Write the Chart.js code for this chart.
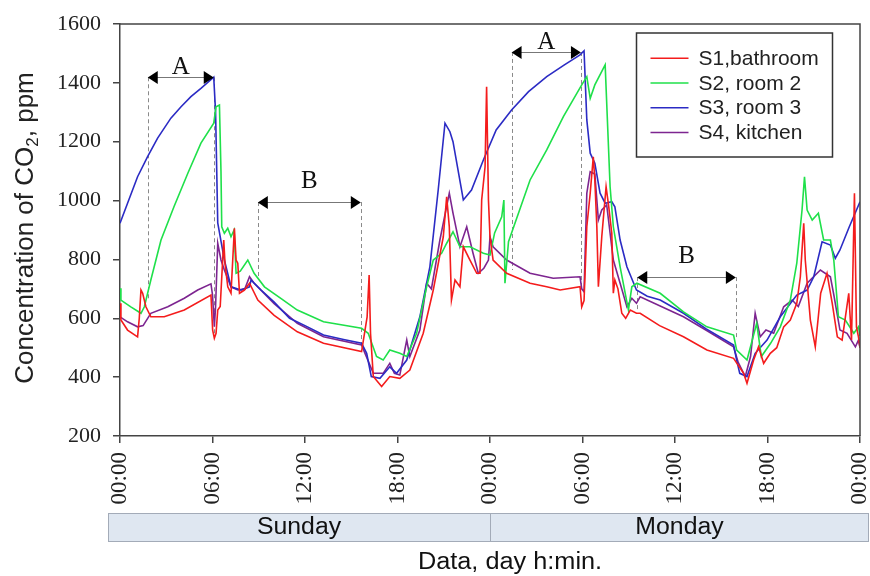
<!DOCTYPE html>
<html lang="en">
<head>
<meta charset="UTF-8">
<title>Concentration of CO2</title>
<script src="https://cdn.jsdelivr.net/npm/chart.js"></script>
<style>
  body { margin: 0; background: #fff; }
</style>
</head>
<body>
<canvas id="chart" width="870" height="576"></canvas>
<script>
// hours counted from Sunday 00:00, values in ppm
const s1Hours = [0, 0.06, 0.49, 1.14, 1.25, 1.36, 1.47, 1.68, 2.0, 2.87, 4.17, 5.9, 6.01, 6.12, 6.23, 6.34, 6.5, 6.66, 6.73, 6.81, 6.99, 7.2, 7.42, 7.53, 7.64, 7.75, 8.07, 8.4, 8.94, 10, 11.5, 13.2, 15.67, 16.03, 16.16, 16.25, 16.43, 16.97, 17.5, 18.15, 18.8, 19.67, 20.32, 20.97, 21.19, 21.36, 21.5, 21.73, 22.05, 22.27, 22.7, 23.14, 23.35, 23.46, 23.68, 23.78, 23.9, 24.0, 24.2, 25.08, 26.6, 27.68, 28.55, 29.84, 29.95, 30.1, 30.28, 30.5, 30.7, 30.8, 30.93, 31.03, 31.25, 31.53, 31.7, 31.9, 32.0, 32.1, 32.3, 32.55, 32.8, 33.1, 33.5, 33.74, 35, 36.55, 38.07, 39.8, 40.45, 40.67, 41.1, 41.42, 41.75, 42.18, 42.6, 43.05, 43.48, 43.9, 44.13, 44.35, 44.45, 44.78, 45.1, 45.45, 45.86, 46.2, 46.53, 46.84, 47.27, 47.45, 47.64, 47.77, 47.9, 48];
const s1Ppm = [651, 594, 560, 537, 600, 696, 685, 639, 605, 605, 628, 679, 560, 532, 549, 628, 640, 798, 866, 787, 707, 685, 906, 798, 787, 685, 696, 719, 662, 610, 554, 515, 487, 605, 747, 549, 402, 368, 402, 396, 424, 549, 696, 877, 1013, 911, 662, 730, 707, 843, 798, 753, 753, 1002, 1115, 1387, 1002, 877, 798, 753, 719, 707, 696, 707, 639, 660, 911, 1025, 1149, 1070, 911, 707, 877, 1047, 980, 889, 685, 730, 700, 617, 600, 628, 617, 617, 575, 537, 492, 464, 413, 379, 458, 503, 447, 481, 500, 571, 594, 651, 741, 923, 798, 594, 503, 685, 753, 651, 537, 526, 685, 526, 1025, 571, 537, 500];

const s2Hours = [0, 0.06, 0.7, 1.36, 1.58, 2.0, 2.66, 3.5, 4.4, 5.25, 6.08, 6.23, 6.45, 6.55, 6.6, 6.77, 6.99, 7.2, 7.4, 7.53, 7.8, 8.29, 8.7, 9.37, 10.5, 11.5, 13.2, 15.67, 16.1, 16.64, 17.07, 17.5, 18.15, 18.6, 19.24, 19.89, 20.32, 20.86, 21.19, 21.6, 22.05, 22.7, 23.57, 24.0, 24.3, 24.76, 24.9, 24.97, 25.2, 26.6, 27.68, 28.76, 29.95, 30.28, 30.5, 30.8, 31.47, 31.79, 32.0, 32.44, 32.98, 33.2, 33.53, 35.04, 36.55, 38.07, 39.8, 40.0, 40.67, 41.3, 41.6, 42.2, 42.83, 43.48, 43.9, 44.24, 44.4, 44.57, 44.9, 45.3, 45.64, 46.08, 46.3, 46.6, 47.05, 47.6, 47.9, 48];
const s2Ppm = [702, 662, 639, 617, 639, 730, 866, 979, 1093, 1195, 1263, 1319, 1325, 1100, 911, 889, 906, 877, 900, 753, 760, 798, 753, 707, 665, 628, 588, 566, 549, 470, 458, 492, 481, 470, 549, 707, 798, 821, 855, 894, 843, 843, 821, 815, 890, 945, 1002, 719, 860, 1070, 1172, 1285, 1393, 1421, 1347, 1393, 1461, 1047, 911, 775, 628, 707, 719, 685, 622, 571, 543, 492, 458, 583, 470, 515, 571, 662, 787, 968, 1081, 968, 934, 957, 866, 866, 798, 605, 594, 549, 571, 540];

const s3Hours = [0, 0.49, 1.14, 1.79, 2.44, 3.3, 3.96, 4.6, 5.25, 6.08, 6.2, 6.34, 6.77, 7.2, 7.85, 8.4, 8.5, 9.15, 10, 11, 12, 13.2, 14.5, 15.67, 16.0, 16.3, 16.86, 17.5, 17.94, 18.6, 19.45, 20.1, 20.64, 21.08, 21.4, 21.6, 22.27, 22.8, 23.57, 24.4, 25.4, 26.5, 27.68, 28.8, 29.84, 30.1, 30.28, 30.5, 30.8, 31.14, 31.47, 31.9, 32.1, 32.44, 32.88, 33.5, 34.2, 35.04, 36.55, 38, 39.8, 40.0, 40.2, 40.67, 41.2, 41.97, 42.83, 43.9, 44.57, 45.0, 45.54, 46.08, 46.4, 46.7, 47.3, 48];
const s3Ppm = [923, 991, 1081, 1149, 1212, 1280, 1319, 1353, 1381, 1419, 1300, 924, 798, 707, 696, 707, 730, 696, 655, 600, 575, 543, 528, 515, 481, 402, 396, 435, 413, 458, 605, 775, 1036, 1263, 1234, 1200, 1002, 1036, 1138, 1240, 1308, 1370, 1421, 1460, 1495, 1509, 1274, 1161, 1127, 1025, 991, 996, 979, 866, 775, 696, 675, 662, 617, 565, 509, 458, 413, 402, 481, 526, 605, 679, 696, 741, 860, 849, 804, 832, 910, 996];

const s4Hours = [0, 0.49, 1.14, 1.5, 2.0, 3.1, 4.17, 5.04, 5.9, 6.0, 6.12, 6.2, 6.34, 6.55, 6.77, 7.2, 7.64, 8.1, 8.4, 8.7, 10, 11.5, 13.2, 15.67, 15.9, 16.43, 17.07, 17.5, 17.8, 18.15, 18.6, 18.8, 19.45, 19.89, 20.2, 20.75, 21.36, 21.6, 22.05, 22.49, 22.9, 23.24, 23.6, 23.9, 24.0, 24.2, 25.08, 26.6, 28.1, 29.84, 29.95, 30.1, 30.28, 30.5, 30.8, 31.03, 31.25, 31.57, 31.79, 32.0, 32.44, 32.88, 33.2, 33.5, 33.74, 36.55, 38, 39.8, 40.1, 40.56, 40.9, 41.2, 41.53, 41.9, 42.4, 43.05, 43.6, 44.0, 44.57, 45.43, 46.08, 46.3, 46.7, 47.16, 47.7, 47.9, 48];
const s4Ppm = [605, 588, 571, 575, 617, 639, 668, 696, 717, 680, 571, 640, 855, 798, 764, 707, 696, 700, 741, 719, 650, 583, 537, 509, 480, 413, 413, 447, 413, 407, 526, 470, 560, 719, 700, 866, 1025, 957, 843, 911, 821, 753, 770, 798, 877, 843, 798, 753, 736, 741, 700, 690, 1025, 1098, 1090, 934, 968, 985, 889, 798, 719, 639, 668, 651, 673, 605, 560, 503, 450, 402, 470, 617, 537, 560, 549, 639, 662, 640, 719, 764, 741, 680, 560, 549, 503, 526, 500];

const seriesNames = ['S1,bathroom', 'S2, room 2', 'S3, room 3', 'S4, kitchen'];
const seriesColors = ['#f41c1c', '#1fe04a', '#2b2bc4', '#7d2590'];
const xTickLabels = ['00:00', '06:00', '12:00', '18:00', '00:00', '06:00', '12:00', '18:00', '00:00'];
const dayLabels = ['Sunday', 'Monday'];

// marked periods (hours, ppm): arrow between from/to at level, dashed drops down to the given ends
const periods = [
  { label: 'A', from: 1.8, to: 6.08, level: 1419, leftEnd: 662, rightEnd: 536, gap: 4 },
  { label: 'B', from: 8.94, to: 15.62, level: 995, leftEnd: 737, rightEnd: 516, gap: 15 },
  { label: 'A', from: 25.4, to: 29.9, level: 1505, leftEnd: 764, rightEnd: 713, gap: 4 },
  { label: 'B', from: 33.55, to: 39.95, level: 740, leftEnd: 628, rightEnd: 536, gap: 15 }
];

const toPoints = (hs, vs) => hs.map((h, i) => ({ x: h, y: vs[i] }));
const seriesData = [
  toPoints(s1Hours, s1Ppm),
  toPoints(s2Hours, s2Ppm),
  toPoints(s3Hours, s3Ppm),
  toPoints(s4Hours, s4Ppm)
];

const serif = '"Liberation Serif", "Times New Roman", serif';
const sans = '"Liberation Sans", Arial, sans-serif';

const decor = {
  id: 'decor',
  beforeDatasetsDraw(chart) {
    const { ctx, scales: { x, y } } = chart;
    ctx.save();
    ctx.strokeStyle = '#8a8a8a';
    ctx.lineWidth = 1;
    ctx.setLineDash([4, 3]);
    periods.forEach(p => {
      [[p.from, p.leftEnd], [p.to, p.rightEnd]].forEach(([h, end]) => {
        const px = Math.round(x.getPixelForValue(h)) + 0.5;
        ctx.beginPath();
        ctx.moveTo(px, y.getPixelForValue(p.level));
        ctx.lineTo(px, y.getPixelForValue(end));
        ctx.stroke();
      });
    });
    ctx.restore();
  },
  afterDraw(chart) {
    const { ctx, chartArea: a, scales: { x, y } } = chart;
    ctx.save();

    // top and right of the frame
    ctx.strokeStyle = '#444';
    ctx.lineWidth = 1.5;
    ctx.beginPath();
    ctx.moveTo(a.left, a.top);
    ctx.lineTo(a.right, a.top);
    ctx.lineTo(a.right, a.bottom);
    ctx.stroke();

    // period arrows
    periods.forEach(p => {
      const x1 = x.getPixelForValue(p.from), x2 = x.getPixelForValue(p.to);
      const py = Math.round(y.getPixelForValue(p.level)) + 0.5;
      ctx.strokeStyle = '#777';
      ctx.lineWidth = 1;
      ctx.beginPath();
      ctx.moveTo(x1 + 8, py);
      ctx.lineTo(x2 - 8, py);
      ctx.stroke();
      ctx.fillStyle = '#000';
      ctx.beginPath();
      ctx.moveTo(x1, py); ctx.lineTo(x1 + 10, py - 6.5); ctx.lineTo(x1 + 10, py + 6.5);
      ctx.closePath(); ctx.fill();
      ctx.beginPath();
      ctx.moveTo(x2, py); ctx.lineTo(x2 - 10, py - 6.5); ctx.lineTo(x2 - 10, py + 6.5);
      ctx.closePath(); ctx.fill();
      ctx.fillStyle = '#111';
      ctx.font = '25px ' + serif;
      ctx.textAlign = 'center';
      ctx.textBaseline = 'alphabetic';
      ctx.fillText(p.label, (x1 + x2) / 2, py - p.gap);
    });

    // legend
    const lx = a.right - 223.5, ly = a.top + 9, lw = 196, lh = 124;
    ctx.fillStyle = '#fff';
    ctx.fillRect(lx, ly, lw, lh);
    ctx.strokeStyle = '#333';
    ctx.lineWidth = 1.5;
    ctx.strokeRect(lx, ly, lw, lh);
    ctx.font = '21px ' + sans;
    ctx.textAlign = 'left';
    ctx.textBaseline = 'middle';
    chart.data.datasets.forEach((ds, i) => {
      const ry = ly + 25.3 + i * 24.7;
      ctx.strokeStyle = ds.borderColor;
      ctx.lineWidth = 1.5;
      ctx.beginPath();
      ctx.moveTo(lx + 14, ry);
      ctx.lineTo(lx + 52, ry);
      ctx.stroke();
      ctx.fillStyle = '#222';
      ctx.fillText(ds.label, lx + 62, ry + 1);
    });

    // y axis title with subscript
    ctx.save();
    ctx.translate(33, (a.top + a.bottom) / 2 - 2);
    ctx.rotate(-Math.PI / 2);
    const t1 = 'Concentration of CO', t2 = '2', t3 = ', ppm';
    ctx.font = '26px ' + sans;
    const w1 = ctx.measureText(t1).width, w3 = ctx.measureText(t3).width;
    ctx.font = '17px ' + sans;
    const w2 = ctx.measureText(t2).width;
    const sx = -(w1 + w2 + w3) / 2;
    ctx.fillStyle = '#222';
    ctx.textAlign = 'left';
    ctx.textBaseline = 'alphabetic';
    ctx.font = '26px ' + sans;
    ctx.fillText(t1, sx, 0);
    ctx.font = '17px ' + sans;
    ctx.fillText(t2, sx + w1, 5);
    ctx.font = '26px ' + sans;
    ctx.fillText(t3, sx + w1 + w2, 0);
    ctx.restore();

    // day band
    const bx0 = a.left - 12, bx1 = chart.width - 1, by = 513, bh = 28;
    const mid = x.getPixelForValue(24);
    ctx.fillStyle = '#dfe7f1';
    ctx.fillRect(bx0, by, bx1 - bx0, bh);
    ctx.strokeStyle = '#a3abb8';
    ctx.lineWidth = 1;
    ctx.strokeRect(bx0 + 0.5, by + 0.5, bx1 - bx0 - 1, bh);
    ctx.beginPath();
    ctx.moveTo(Math.round(mid) + 0.5, by);
    ctx.lineTo(Math.round(mid) + 0.5, by + bh);
    ctx.stroke();
    ctx.fillStyle = '#111';
    ctx.font = '23px ' + sans;
    ctx.textAlign = 'center';
    ctx.textBaseline = 'middle';
    [[bx0, mid], [mid, bx1]].forEach(([l, r], i) => {
      ctx.save();
      ctx.translate((l + r) / 2, by + bh / 2 + 1);
      ctx.scale(1.08, 1);
      ctx.fillText(dayLabels[i], 0, 0);
      ctx.restore();
    });

    // x axis title
    ctx.save();
    ctx.translate((a.left + a.right) / 2 + 20, 563);
    ctx.scale(1.1, 1);
    ctx.font = '23px ' + sans;
    ctx.fillStyle = '#111';
    ctx.fillText('Data, day h:min.', 0, 0);
    ctx.restore();

    ctx.restore();
  }
};

new Chart(document.getElementById('chart'), {
  type: 'line',
  data: {
    datasets: seriesData.map((pts, i) => ({
      label: seriesNames[i],
      data: pts,
      borderColor: seriesColors[i],
      borderWidth: 1.6,
      pointRadius: 0,
      tension: 0,
      fill: false
    }))
  },
  options: {
    responsive: false,
    devicePixelRatio: 1,
    animation: false,
    layout: { padding: { top: 24, right: 10, left: 0, bottom: 0 } },
    plugins: { legend: { display: false }, tooltip: { enabled: false } },
    scales: {
      x: {
        type: 'linear',
        min: 0,
        max: 48,
        afterFit: s => { s.height = 140; s.paddingLeft = 0; s.paddingRight = 0; },
        ticks: {
          stepSize: 6,
          autoSkip: false,
          minRotation: 90,
          maxRotation: 90,
          padding: 9,
          color: '#222',
          font: { family: serif, size: 23 },
          callback: (v, i) => xTickLabels[i]
        },
        grid: { drawOnChartArea: false, drawTicks: true, tickLength: 7, color: '#444', lineWidth: 1.5 },
        border: { display: true, color: '#444', width: 1.5 }
      },
      y: {
        min: 200,
        max: 1600,
        afterFit: s => { s.width = 120; s.paddingTop = 0; s.paddingBottom = 0; },
        ticks: {
          stepSize: 200,
          padding: 12,
          color: '#222',
          font: { family: serif, size: 22 },
          callback: v => String(v)
        },
        grid: { drawOnChartArea: false, drawTicks: true, tickLength: 7, color: '#444', lineWidth: 1.5 },
        border: { display: true, color: '#444', width: 1.5 }
      }
    }
  },
  plugins: [decor]
});
</script>
</body>
</html>
